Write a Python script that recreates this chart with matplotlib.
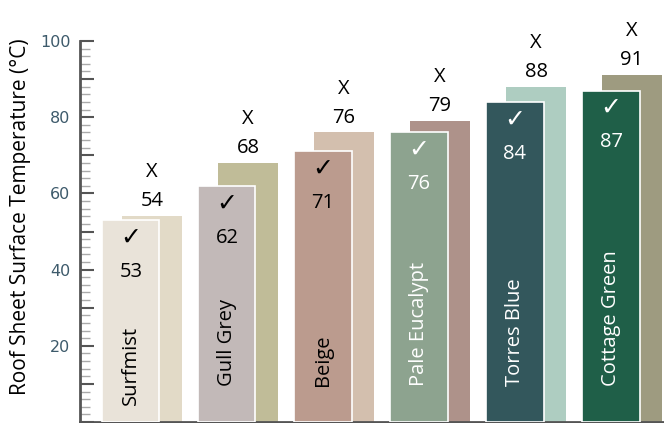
import matplotlib.pyplot as plt
from matplotlib.ticker import FixedLocator

# colour names and temperatures
names = ["Surfmist", "Gull Grey", "Beige", "Pale Eucalypt", "Torres Blue", "Cottage Green"]
tick_vals = [53, 62, 71, 76, 84, 87]
cross_vals = [54, 68, 76, 79, 88, 91]

front_colors = ["#E9E3D9", "#C2B9B8", "#BB9B8E", "#8DA38F", "#33575C", "#1F5F48"]
back_colors = ["#E2DAC7", "#C0BC98", "#D3BFAE", "#AE928A", "#AECDC1", "#9E9B80"]
text_colors = ["black", "black", "black", "white", "white", "white"]

plt.rcParams['font.family'] = ['Open Sans', 'DejaVu Sans']

fig = plt.figure(figsize=(6.64, 4.23), dpi=100)
ax = fig.add_axes([80 / 664, 1 / 423, 584 / 664, 421 / 423])

x = list(range(len(names)))
off = 0.219
back_x = [i + off for i in x]

ax.bar(back_x, cross_vals, width=0.625, color=back_colors, zorder=2)
ax.bar(x, tick_vals, width=0.594, color=front_colors, edgecolor="white",
       linewidth=1.2, zorder=3)

for i in x:
    tc = text_colors[i]
    # front (tick) bar labels
    ax.text(i, tick_vals[i] - 4.6, "\u2713", ha="center", va="center",
            fontsize=18, color=tc, zorder=4, family="DejaVu Sans")
    ax.text(i, tick_vals[i] - 13.6, str(tick_vals[i]), ha="center", va="center",
            fontsize=14.5, color=tc, zorder=4)
    ny = 4.5 if i == 0 else 9.5
    ax.text(i, ny, names[i], rotation=90, ha="center", va="bottom",
            fontsize=14.5, color=tc, zorder=4)
    # back (cross) bar labels
    ax.text(back_x[i], cross_vals[i] + 11.5, "X", ha="center", va="center",
            fontsize=14.5, color="black")
    ax.text(back_x[i], cross_vals[i] + 3.9, str(cross_vals[i]), ha="center", va="center",
            fontsize=14.5, color="black")

ax.set_xlim(-0.531, 5.552)
ax.set_ylim(0, 110.5)

ax.spines["top"].set_visible(False)
ax.spines["right"].set_visible(False)
ax.spines["left"].set_bounds(0, 100)
ax.spines["left"].set_color("#555555")
ax.spines["left"].set_linewidth(2)
ax.spines["bottom"].set_color("#555555")
ax.spines["bottom"].set_linewidth(2)

ax.set_xticks([])
ax.yaxis.set_major_locator(FixedLocator(list(range(0, 101, 10))))
ax.set_yticklabels(["" if v % 20 or v == 0 else str(v) for v in range(0, 101, 10)])
ax.yaxis.set_minor_locator(FixedLocator([v for v in range(0, 101, 2) if v % 10]))
ax.tick_params(axis="y", which="major", direction="in", length=10, width=1.5,
               color="#555555", labelsize=11.5, labelcolor="#3D5A6B", pad=7)
ax.tick_params(axis="y", which="minor", direction="in", length=7, width=1,
               color="#aaaaaa")
for lab in ax.get_yticklabels():
    lab.set_family("DejaVu Sans")

ax.set_ylabel("Roof Sheet Surface Temperature (\u00b0C)", fontsize=15)
ax.yaxis.set_label_coords(-0.084, 0.488)

fig.savefig("out.png", dpi=100)
